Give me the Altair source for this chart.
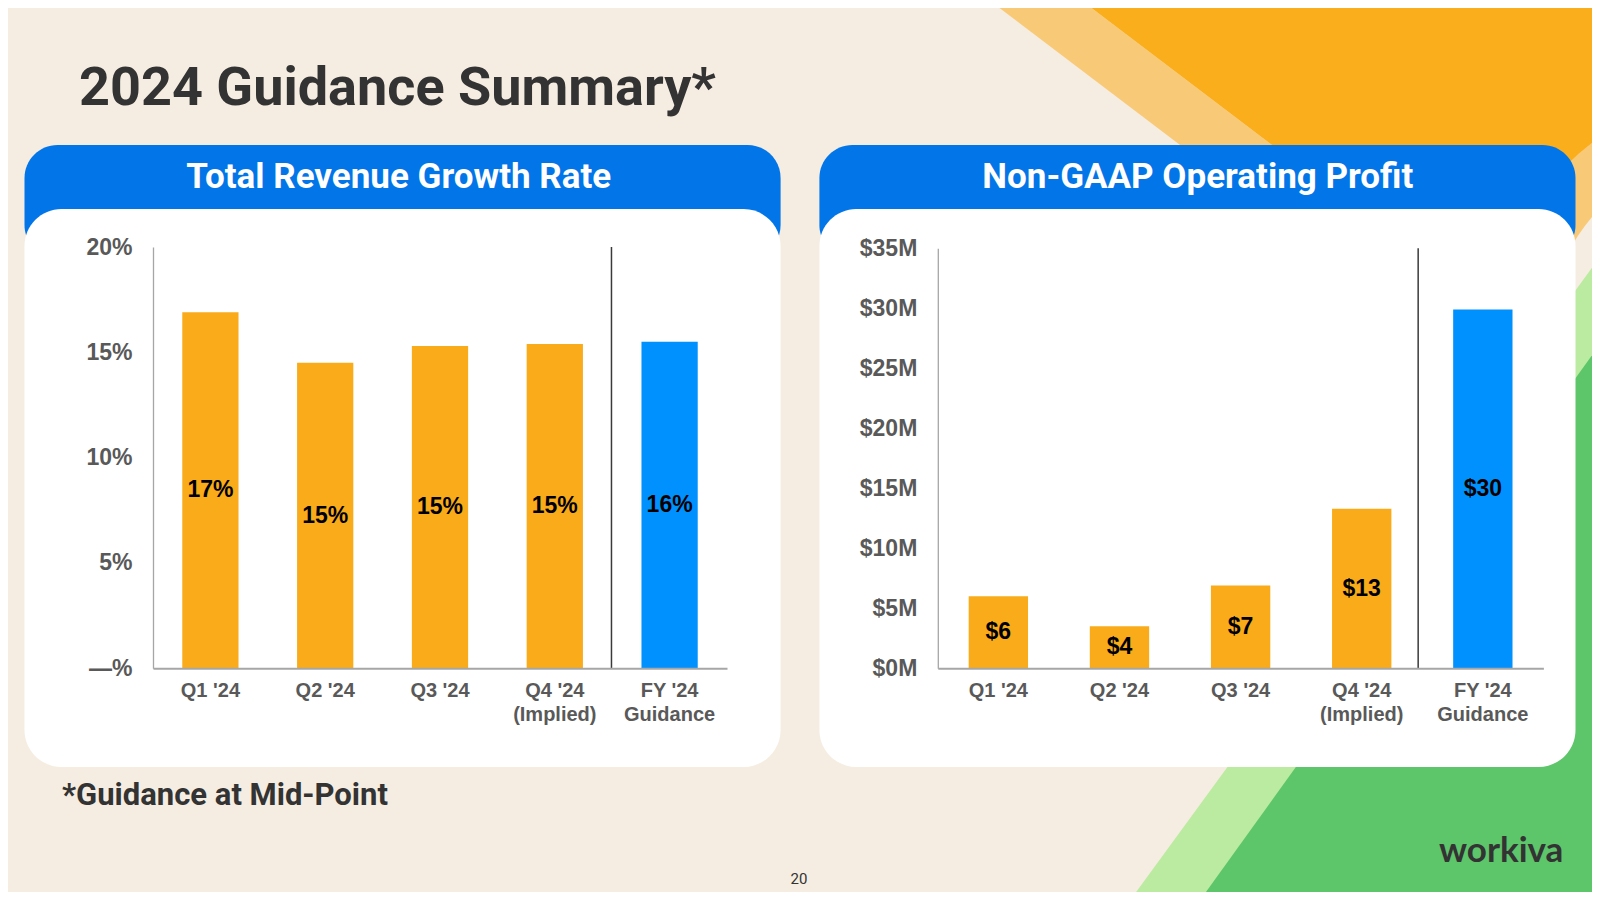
import altair as alt
import pandas as pd

# ---------------- data ----------------
categories = ["Q1 '24", "Q2 '24", "Q3 '24", "Q4 '24\n(Implied)", "FY '24\nGuidance"]
growth_values = [16.9, 14.5, 15.3, 15.4, 15.5]
growth_labels = ["17%", "15%", "15%", "15%", "16%"]
growth_ticks = [0, 5, 10, 15, 20]
profit_values = [6.0, 3.5, 6.9, 13.3, 29.9]
profit_labels = ["$6", "$4", "$7", "$13", "$30"]
profit_ticks = [0, 5, 10, 15, 20, 25, 30, 35]

title_text = "2024 Guidance Summary*"
left_title = "Total Revenue Growth Rate"
right_title = "Non-GAAP Operating Profit"
footnote = "*Guidance at Mid-Point"
page_no = "20"
logo = "workiva"

# ---------------- layout / style ----------------
M = 8                      # page margin of the html body
W, H = 1600 - 2 * M, 900 - 2 * M


def P(v):
    """page pixel -> chart pixel"""
    return v - M


BEIGE = "#F5EDE1"
ORANGE = "#F9AB1A"
ORANGE_DECO = "#FAAE1B"
ORANGE_LIGHT = "#F8CA78"
GREEN = "#5DC56A"
GREEN_LIGHT = "#BBEBA1"
HEAD_BLUE = "#0275E8"
BAR_BLUE = "#0091FF"
DARK = "#333333"
GREY = "#595959"
AXIS_FONT = "Liberation Sans"
HEAD_FONT = "Roboto"

one = pd.DataFrame({"a": [0]})

# decorative shapes (page pixel coordinates)
deco_light_band = pd.DataFrame({"y": [0, 170], "x": [989, 1213], "x2": [1081, 1305]})
deco_orange = pd.DataFrame({"y": [0, 395], "x": [1081, 1601], "x2": [1610, 1610]})
deco_green_light = pd.DataFrame({"y": [250, 910], "x": [1605, 1123], "x2": [1610, 1610]})
deco_green = pd.DataFrame({"y": [340, 910], "x": [1603, 1193], "x2": [1610, 1610]})

dx = alt.Scale(domain=[M, W + M], range=[0, W], nice=False, zero=False)
dy = alt.Scale(domain=[M, H + M], range=[0, H], nice=False, zero=False)


def deco_area(df, color):
    return alt.Chart(df).mark_area(orient="horizontal", color=color, opacity=1).encode(
        y=alt.Y("y:Q", scale=dy, axis=None),
        x=alt.X("x:Q", scale=dx, axis=None),
        x2="x2:Q",
    )


def disk(cx, cy, r, color):
    return alt.Chart(one).mark_circle(color=color, opacity=1, size=3.14159 * r * r).encode(
        x=alt.value(P(cx)), y=alt.value(P(cy))
    )


decor = alt.layer(
    deco_area(deco_light_band, ORANGE_LIGHT),
    deco_area(deco_orange, ORANGE_DECO),
    disk(1750, 350, 294, ORANGE_LIGHT),
    disk(1750, 350, 233, BEIGE),
    deco_area(deco_green_light, GREEN_LIGHT),
    deco_area(deco_green, GREEN),
)


def rect(x0, x1, y0, y1, color, r):
    return alt.Chart(one).mark_rect(color=color, cornerRadius=r).encode(
        x=alt.value(P(x0)), x2=alt.value(P(x1)), y=alt.value(P(y0)), y2=alt.value(P(y1))
    )


def txt(s, x, y, size, color, font=HEAD_FONT, weight="bold", align="left"):
    return alt.Chart(one).mark_text(
        text=s, font=font, fontSize=size, fontWeight=weight, color=color,
        align=align, baseline="alphabetic"
    ).encode(x=alt.value(P(x)), y=alt.value(P(y)))


cards = [
    rect(24.5, 780.6, 145, 258, HEAD_BLUE, 33),
    rect(24.5, 780.6, 209, 767, "white", 37),
    rect(819.4, 1575.5, 145, 258, HEAD_BLUE, 33),
    rect(819.4, 1575.5, 209, 767, "white", 37),
]


def panel(values, labels, ticks, ymax, x0, x1, ytop, sep_off, label_expr):
    df = pd.DataFrame({"cat": categories, "val": values, "lab": labels,
                       "idx": list(range(len(categories)))})
    xscale = alt.Scale(domain=categories, range=[P(x0), P(x1)],
                       paddingInner=0.51, paddingOuter=0.255)
    yscale = alt.Scale(domain=[0, ymax], range=[P(668.3), P(ytop)], nice=False, zero=True)
    xaxis = alt.Axis(
        orient="bottom", offset=P(668.3) - H, title=None, labelAngle=0, ticks=False,
        grid=False, labelFont=AXIS_FONT, labelFontWeight="bold", labelFontSize=20,
        labelColor=GREY, labelPadding=12, labelLineHeight=24, labelLimit=0,
        labelExpr="split(datum.label, '\\n')", domainColor="#A6A6A6", domainWidth=2,
        zindex=1,
    )
    yaxis = alt.Axis(
        orient="left", offset=-P(x0), title=None, values=ticks, ticks=False, grid=False,
        labelFont=AXIS_FONT, labelFontWeight="bold", labelFontSize=23, labelColor=GREY,
        labelPadding=21, labelExpr=label_expr, domainColor="#A6A6A6", domainWidth=1.3,
        zindex=1,
    )
    X = alt.X("cat:N", sort=categories, scale=xscale, axis=xaxis)
    bars = alt.Chart(df).mark_bar().encode(
        x=X,
        y=alt.Y("val:Q", scale=yscale, axis=yaxis),
        color=alt.condition("datum.idx == 4", alt.value(BAR_BLUE), alt.value(ORANGE)),
    )
    text = alt.Chart(df).transform_calculate(mid="datum.val / 2").mark_text(
        font=AXIS_FONT, fontSize=23, fontWeight="bold", color="black", baseline="middle"
    ).encode(x=X, y=alt.Y("mid:Q", scale=yscale, axis=yaxis), text="lab:N")
    sep = alt.Chart(df).transform_filter("datum.idx == 4").mark_rule(
        color="#3A3A3A", strokeWidth=1.5, xOffset=sep_off
    ).encode(
        x=alt.X("cat:N", sort=categories, scale=xscale, axis=xaxis, bandPosition=0),
        y=alt.YDatum(0, type="quantitative", scale=yscale, axis=yaxis),
        y2=alt.Y2Datum(ymax),
    )
    return alt.layer(bars, text, sep)


left = panel(growth_values, growth_labels, growth_ticks, 20, 153, 727, 247, -30,
             "datum.value == 0 ? '\u2014%' : datum.value + '%'")
right = panel(profit_values, profit_labels, profit_ticks, 35, 937.8, 1543.4, 248.3, -35,
              "'$' + datum.value + 'M'")

texts = [
    txt(title_text, 79, 105, 54, DARK),
    txt(left_title, 398.7, 188, 35, "white", align="center"),
    txt(right_title, 1197.8, 188, 35, "white", align="center"),
    txt(footnote, 62, 805, 31, DARK),
    txt(page_no, 799, 884, 15, DARK, weight="normal", align="center"),
    txt(logo, 1439, 862, 35, DARK, font="Lato"),
]

chart = alt.layer(
    decor, *cards, *texts[1:3], left, right, texts[0], *texts[3:]
).resolve_scale(
    x="independent", y="independent"
).resolve_axis(
    x="independent", y="independent"
).properties(
    width=W, height=H, autosize=alt.AutoSizeParams(type="none"), padding=0,
    background=BEIGE,
).configure_view(strokeWidth=0)

chart.save("out.html", embed_options={"renderer": "svg", "actions": False})
